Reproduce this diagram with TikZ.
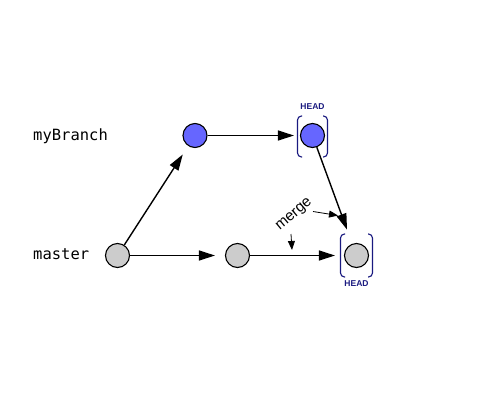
\documentclass[tikz,border=0pt]{standalone}
\usepackage{fontspec}
\newfontfamily\monofont{DejaVu Sans Mono}
\newfontfamily\labelfont{Liberation Sans}
\usetikzlibrary{arrows.meta}
\definecolor{cblue}{HTML}{6666FF}
\definecolor{cgray}{HTML}{CCCCCC}
\definecolor{cnavy}{HTML}{1A1A80}
\tikzset{
  commit/.style={circle,draw=black,line width=1.1pt,minimum size=24pt,inner sep=0pt},
  bcommit/.style={commit,fill=cblue},
  gcommit/.style={commit,fill=cgray},
  conn/.style={line width=1.4pt,-{Triangle[length=16pt,width=10pt]}},
  smallarrow/.style={line width=0.8pt,-{Triangle[length=9pt,width=7pt]}},
  brack/.style={draw=cnavy,line width=1.1pt,rounded corners=4pt},
  branchlabel/.style={font=\monofont\fontsize{15.5}{18}\selectfont,anchor=base west,inner sep=0pt},
  headlabel/.style={font=\labelfont\bfseries\fontsize{8.5}{9}\selectfont,text=cnavy,inner sep=0pt},
}
\begin{document}
\begin{tikzpicture}[x=1pt,y=-1pt]
\useasboundingbox[fill=white] (0,0) rectangle (480,400);
% labels
\node[branchlabel] (lb) at (33,140) {myBranch};
\node[branchlabel] (lm) at (33,259) {master};
% commits
\node[gcommit] (m1) at (117.5,255.5) {};
\node[gcommit] (m2) at (237.5,255.5) {};
\node[gcommit] (m3) at (356.5,255.5) {};
\node[bcommit] (b1) at (195,135.5) {};
\node[bcommit] (b2) at (312.5,135.5) {};
% brackets
\draw[brack] (302,116) -- (297.5,116) -- (297.5,157) -- (302,157);
\draw[brack] (323,116) -- (327.5,116) -- (327.5,157) -- (323,157);
\draw[brack] (345,234) -- (340.5,234) -- (340.5,277) -- (345,277);
\draw[brack] (368,234) -- (372.5,234) -- (372.5,277) -- (368,277);
% HEAD labels
\node[headlabel] (h1) at (312.5,106.5) {HEAD};
\node[headlabel] (h2) at (356.5,284) {HEAD};
% connectors
\draw[conn,shorten >=10pt] (m1) -- (m2);
\draw[conn,shorten >=9pt] (m2) -- (m3);
\draw[conn,shorten >=10pt] (m1) -- (b1);
\draw[conn,shorten >=6pt] (b1) -- (b2);
\draw[conn,shorten >=15pt] (b2) -- (m3);
% merge label
\node[font=\labelfont\fontsize{15}{17}\selectfont,rotate=40,inner sep=0pt] (mg) at (294.5,215) {merge};
\coordinate (ma1) at (313,211.5);
\coordinate (mt1) at (338,215.5);
\coordinate (ma2) at (291,234);
\coordinate (mt2) at (292,250);
\draw[smallarrow] (ma1) -- (mt1);
\draw[smallarrow] (ma2) -- (mt2);
\end{tikzpicture}
\end{document}
